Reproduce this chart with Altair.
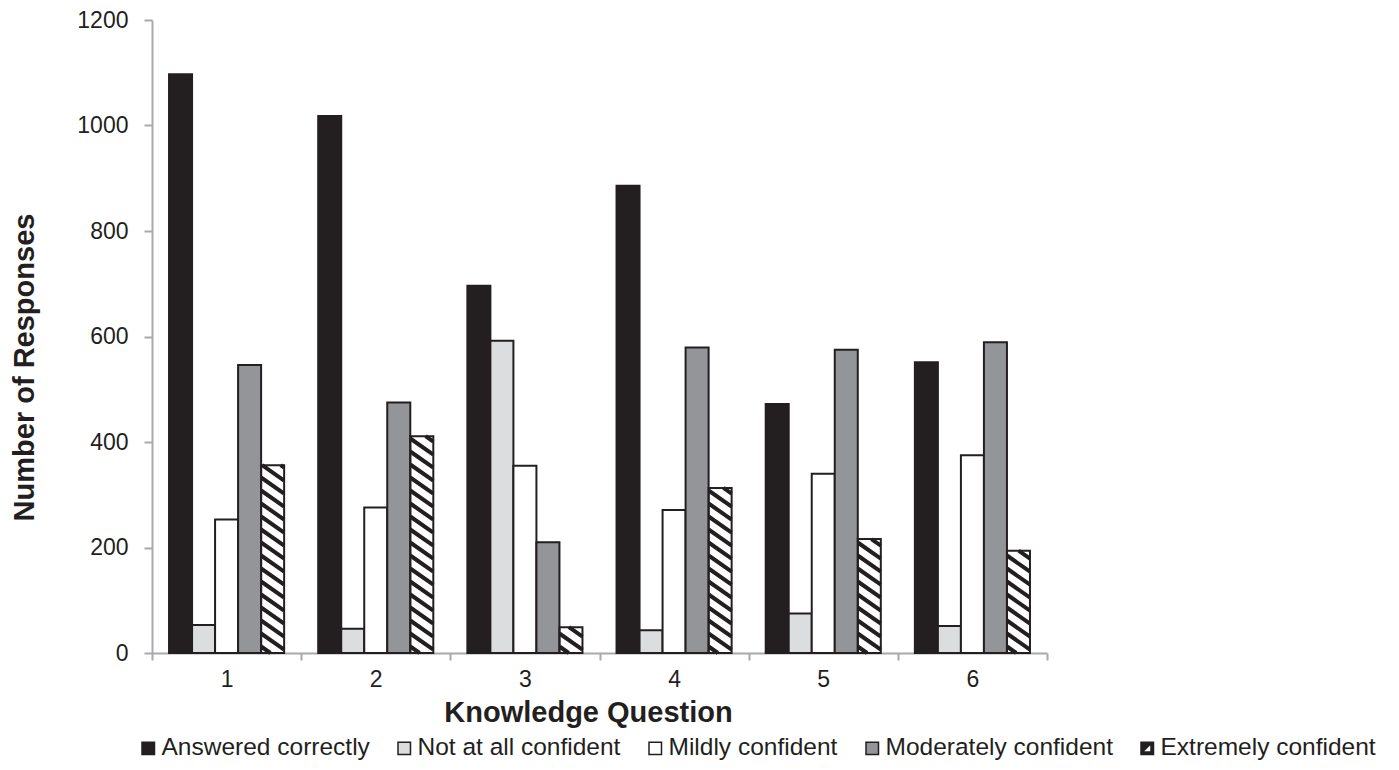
import altair as alt
import pandas as pd

# ---------------- data ----------------
questions = ["1", "2", "3", "4", "5", "6"]
series = ["Answered correctly", "Not at all confident", "Mildly confident",
          "Moderately confident", "Extremely confident"]
answered_correctly = [1097, 1018, 696, 886, 472, 551]
not_at_all_confident = [53, 46, 592, 43, 75, 51]
mildly_confident = [253, 276, 355, 271, 340, 375]
moderately_confident = [546, 475, 210, 579, 575, 589]
extremely_confident = [356, 411, 49, 313, 216, 194]
y_ticks = [0, 200, 400, 600, 800, 1000, 1200]

values_by_series = [answered_correctly, not_at_all_confident, mildly_confident,
                    moderately_confident, extremely_confident]
rows = []
for s, vals in zip(series, values_by_series):
    for qi, (q, v) in enumerate(zip(questions, vals)):
        rows.append({"question": q, "qi": qi, "series": s, "value": v})
df = pd.DataFrame(rows)

# ---------------- styles / layout ----------------
INK = "#231f20"
GRAY = "#a7a9ac"
FONT = "Liberation Sans"
W, H = 895, 633
YMAX = 1200
PAD_OUTER = 0.74
n = len(series)
u = 1 / (n + 2 * PAD_OUTER)            # sub-band width in group units
L = (PAD_OUTER + n - 1) * u            # left edge of hatched bar in group
bar_px = W / len(questions) * u
SLOPE = 0.7
D = SLOPE * bar_px * YMAX / H          # stripe drop across one bar (value units)
S = 13 * YMAX / H                      # vertical stripe period (value units)

bar_fills = [INK, "#dcddde", "#ffffff", "#939598", "transparent"]
legend_fills = [INK, "#dcddde", "#ffffff", "#939598", INK]
ICON = ("M-1,-1L1,-1L1,1L-1,1Z "
        "M-0.6,-0.6L-0.6,0.6L0.6,0.6L0.6,-0.6Z "
        "M-0.6,-0.6L0.4,-0.6L-0.6,0.4Z")
legend_shapes = ["square", "square", "square", "square", ICON]

y_scale = alt.Scale(domain=[0, YMAX], nice=False, zero=True)
y_axis = alt.Axis(
    title="Number of Responses", values=y_ticks, format="d", grid=False,
    tickSize=8, tickWidth=2, tickColor=GRAY, domainColor=GRAY, domainWidth=2,
    labelFont=FONT, labelFontSize=23, labelPadding=16, labelColor=INK,
    titleFont=FONT, titleFontSize=29, titleFontWeight="bold", titleColor=INK,
    titleX=-119, titleY=347, titleAngle=270, titleBaseline="alphabetic",
    titleAlign="center",
)

# ---------------- hatch lines ----------------
hatch = (
    alt.Chart(df)
    .transform_filter(alt.datum.series == series[-1])
    .transform_calculate(cs=f"sequence({S/2}, datum.value + {D}, {S})")
    .transform_flatten(["cs"], as_=["c"])
    .transform_calculate(t0=f"max(0, (datum.c - datum.value) / {D})")
    .transform_calculate(t1=f"min(1, datum.c / {D})")
    .transform_filter("datum.t1 > datum.t0")
    .transform_calculate(ends="[0, 1]")
    .transform_flatten(["ends"], as_=["e"])
    .transform_calculate(t="datum.e == 0 ? datum.t0 : datum.t1")
    .transform_calculate(hx=f"datum.qi + {L} + datum.t * {u}")
    .transform_calculate(hy=f"datum.c - {D} * datum.t")
    .transform_calculate(sid="datum.qi + '_' + datum.c")
    .mark_line(stroke=INK, strokeWidth=4, strokeCap="butt")
    .encode(
        x=alt.X("hx:Q", scale=alt.Scale(domain=[0, len(questions)], nice=False, zero=False), axis=None),
        y=alt.Y("hy:Q", scale=y_scale, axis=y_axis),
        detail="sid:N",
        order="e:Q",
    )
)

# ---------------- bars ----------------
bars = (
    alt.Chart(df)
    .mark_bar(stroke=INK, strokeWidth=2)
    .encode(
        x=alt.X(
            "question:N", sort=questions,
            scale=alt.Scale(paddingInner=0, paddingOuter=0),
            axis=alt.Axis(
                title="Knowledge Question", labelAngle=0, tickBand="extent",
                tickSize=7, tickWidth=2, tickColor=GRAY, domainColor=GRAY, domainWidth=2,
                labelFont=FONT, labelFontSize=23, labelPadding=8, labelColor=INK,
                titleFont=FONT, titleFontSize=29, titleFontWeight="bold", titleColor=INK,
                titleX=436, titleY=68, titleBaseline="alphabetic", titleAlign="center",
            ),
        ),
        xOffset=alt.XOffset(
            "series:N", sort=series,
            scale=alt.Scale(domain=series, paddingInner=0, paddingOuter=PAD_OUTER),
        ),
        y=alt.Y("value:Q", scale=y_scale, axis=y_axis),
        fill=alt.Fill("series:N", sort=series,
                      scale=alt.Scale(domain=series, range=bar_fills), legend=None),
    )
)

# ---------------- legend ----------------
leg = alt.Legend(
    title=None, orient="none", legendX=-16, legendY=716, direction="horizontal",
    symbolSize=156, symbolStrokeWidth=1.5, symbolOpacity=1,
    labelFont=FONT, labelFontSize=24.5, labelColor=INK, labelOffset=1,
    labelLimit=400, columnPadding=22,
)
legend_layer = (
    alt.Chart(pd.DataFrame({"series": series}))
    .mark_point(filled=True, opacity=0)
    .encode(
        color=alt.Color("series:N", sort=series,
                        scale=alt.Scale(domain=series, range=legend_fills), legend=leg),
        shape=alt.Shape("series:N", sort=series,
                        scale=alt.Scale(domain=series, range=legend_shapes), legend=leg),
        stroke=alt.Stroke("series:N", sort=series,
                          scale=alt.Scale(domain=series, range=[INK] * len(series)), legend=leg),
    )
)

chart = (
    alt.layer(hatch, bars, legend_layer)
    .resolve_scale(x="independent", fill="independent")
    .properties(
        width=W, height=H,
        autosize=alt.AutoSizeParams(type="none"),
        padding={"left": 144, "top": 12, "right": 344, "bottom": 109},
    )
    .configure(font=FONT)
    .configure_view(stroke="transparent", strokeWidth=0)
)

chart.save("out.html", embed_options={"renderer": "svg", "actions": False})
